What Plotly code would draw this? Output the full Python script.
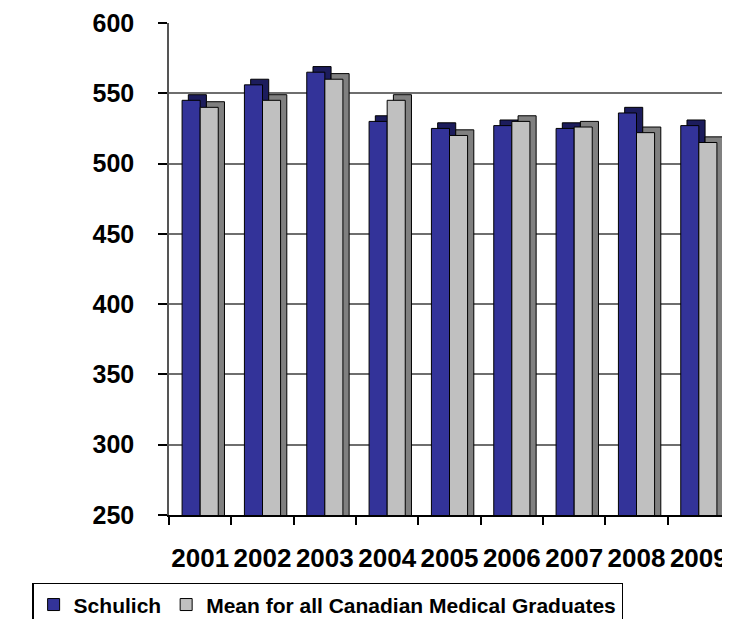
import plotly.graph_objects as go

years = ["2001", "2002", "2003", "2004", "2005", "2006", "2007", "2008", "2009"]
schulich = [545, 556, 565, 530, 525, 527, 525, 536, 527]
mean_all = [540, 545, 560, 545, 520, 530, 526, 522, 515]
y_ticks = [250, 300, 350, 400, 450, 500, 550, 600]

BLUE = "#333399"
BLUE_DARK = "#1c1c5c"
GRAY = "#C0C0C0"
GRAY_DARK = "#808080"

W = 0.29      # bar width in category units
DX = 0.10     # depth offset (x, category units)
DY = 4        # depth offset (y, value units)

fig = go.Figure()

def add_series(name, vals, off, face, side):
    # depth (3D side/top) drawn behind the face
    fig.add_trace(go.Bar(
        x=years, y=vals, base=DY, offset=off + DX, width=W,
        marker=dict(color=side, line=dict(color="black", width=1)),
        showlegend=False, hoverinfo="skip"))
    fig.add_trace(go.Bar(
        x=years, y=vals, offset=off, width=W, name=name,
        marker=dict(color=face, line=dict(color="black", width=1))))

add_series("Schulich", schulich, -W, BLUE, BLUE_DARK)
add_series("Mean for all Canadian Medical Graduates", mean_all, 0.0, GRAY, GRAY_DARK)

font_family = "Liberation Sans, Arial, sans-serif"

fig.update_layout(
    width=730, height=619,
    margin=dict(l=161, r=8, t=15, b=112, autoexpand=False),
    paper_bgcolor="white", plot_bgcolor="white",
    barmode="overlay",
    font=dict(family=font_family, color="black"),
    xaxis=dict(
        type="category", categoryorder="array", categoryarray=years,
        range=[-0.5, 8.5], tickson="boundaries", tickangle=0,
        ticks="outside", ticklen=8, tickcolor="black", tickwidth=1.5,
        showline=True, linecolor="black", linewidth=1.5,
        showgrid=False, automargin=False,
        tickfont=dict(size=26, weight="bold", family=font_family),
        ticklabelstandoff=19,
    ),
    yaxis=dict(
        range=[250, 600], tickvals=y_ticks,
        ticks="outside", ticklen=9, tickcolor="black", tickwidth=1.5,
        showline=True, linecolor="#555555", linewidth=1.5,
        showgrid=True, gridcolor="#6e6e6e", gridwidth=1.5,
        zeroline=False, automargin=False,
        tickfont=dict(size=25, weight="bold", family=font_family),
        ticklabelstandoff=19,
    ),
    legend=dict(
        orientation="h", x=-0.244, xanchor="left", y=-0.138, yanchor="top",
        bordercolor="black", borderwidth=1.5, bgcolor="white",
        font=dict(size=21, weight="bold", family=font_family),
        itemclick=False,
    ),
)

fig.write_html("out.html")
